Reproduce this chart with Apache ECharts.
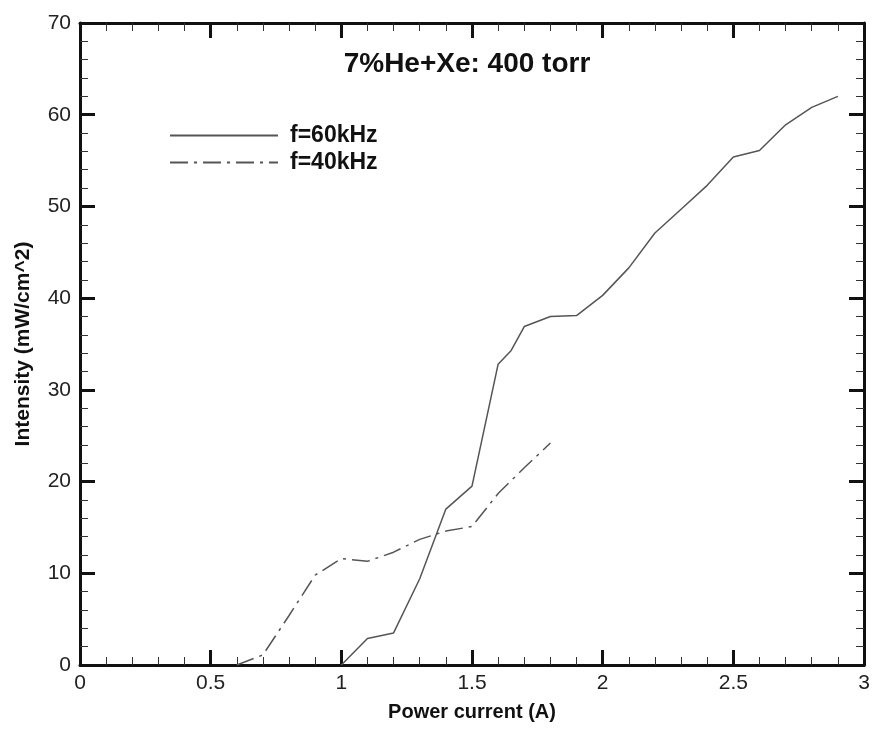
<!DOCTYPE html>
<html>
<head>
<meta charset="utf-8">
<script src="https://cdn.jsdelivr.net/npm/echarts@6/dist/echarts.min.js"></script>
<style>html,body{margin:0;padding:0;background:#fff}#c{width:873px;height:742px}</style>
</head>
<body>
<div id="c"></div>
<script>
const titleText = '7%He+Xe: 400 torr';
const xName = 'Power current (A)';
const yName = 'Intensity (mW/cm^2)';
const seriesNames = ['f=60kHz', 'f=40kHz'];
const x60 = [1.0, 1.1, 1.2, 1.3, 1.4, 1.5, 1.6, 1.65, 1.7, 1.8, 1.9, 2.0, 2.1, 2.2, 2.3, 2.4, 2.5, 2.6, 2.7, 2.8, 2.9];
const y60 = [0, 2.9, 3.5, 9.4, 17.0, 19.5, 32.8, 34.3, 36.9, 38.0, 38.1, 40.3, 43.3, 47.1, 49.7, 52.3, 55.4, 56.1, 58.9, 60.8, 62.0];
const x40 = [0.6, 0.7, 0.8, 0.9, 1.0, 1.1, 1.2, 1.3, 1.4, 1.5, 1.6, 1.7, 1.8];
const y40 = [0, 1.1, 5.4, 9.8, 11.6, 11.3, 12.3, 13.7, 14.6, 15.1, 18.7, 21.5, 24.2];
const xTicks = [0, 0.5, 1, 1.5, 2, 2.5, 3];
const yTicks = [0, 10, 20, 30, 40, 50, 60, 70];

const font = 'Liberation Sans, Arial, sans-serif';
const zip = (xs, ys) => xs.map((x, i) => [x, ys[i]]);
const axisCommon = {
  axisLine: { show: true, onZero: false, lineStyle: { color: '#111', width: 3 } },
  axisTick: { show: true, inside: true, length: 15, lineStyle: { color: '#111', width: 3 } },
  minorTick: { show: true, splitNumber: 5, length: 8, lineStyle: { color: '#333', width: 1 } },
  splitLine: { show: false }
};
const chart = echarts.init(document.getElementById('c'));
chart.setOption({
  animation: false,
  backgroundColor: '#fff',
  title: {
    text: titleText, left: 462, top: 45, textAlign: 'center',
    textStyle: { fontFamily: font, fontSize: 28, fontWeight: 'bold', color: '#111' }
  },
  legend: {
    orient: 'vertical', left: 164, top: 119, itemWidth: 108, itemHeight: 24, itemGap: 4,
    data: seriesNames,
    itemStyle: { opacity: 0 },
    textStyle: { fontFamily: font, fontSize: 23, fontWeight: 'bold', color: '#111', padding: [0, 0, 0, 7] }
  },
  grid: { left: 80, right: 9, top: 23, bottom: 77 },
  xAxis: [
    Object.assign({
      type: 'value', min: 0, max: 3, interval: 0.5, position: 'bottom',
      name: xName, nameLocation: 'middle', nameGap: 37,
      nameTextStyle: { fontFamily: font, fontSize: 20, fontWeight: 'bold', color: '#111' },
      axisLabel: { fontFamily: font, fontSize: 21, color: '#222', margin: 8,
        formatter: v => xTicks.includes(v) ? String(v) : '' }
    }, axisCommon),
    Object.assign({
      type: 'value', min: 0, max: 3, interval: 0.5, position: 'top',
      axisLabel: { show: false }
    }, axisCommon)
  ],
  yAxis: [
    Object.assign({
      type: 'value', min: 0, max: 70, interval: 10, position: 'left',
      name: yName, nameLocation: 'middle', nameGap: 46, nameRotate: 90,
      nameTextStyle: { fontFamily: font, fontSize: 21, fontWeight: 'bold', color: '#111' },
      axisLabel: { fontFamily: font, fontSize: 21, color: '#222', margin: 9,
        formatter: v => yTicks.includes(v) ? String(v) : '' }
    }, axisCommon),
    Object.assign({
      type: 'value', min: 0, max: 70, interval: 10, position: 'right',
      axisLabel: { show: false }
    }, axisCommon)
  ],
  series: [
    { name: seriesNames[0], type: 'line', data: zip(x60, y60), symbol: 'none',
      lineStyle: { color: '#555', width: 1.5, type: 'solid' }, itemStyle: { color: '#555' } },
    { name: seriesNames[1], type: 'line', data: zip(x40, y40), symbol: 'none',
      lineStyle: { color: '#555', width: 1.5, type: [18, 6, 3, 6] }, itemStyle: { color: '#555' } }
  ]
});
</script>
</body>
</html>
